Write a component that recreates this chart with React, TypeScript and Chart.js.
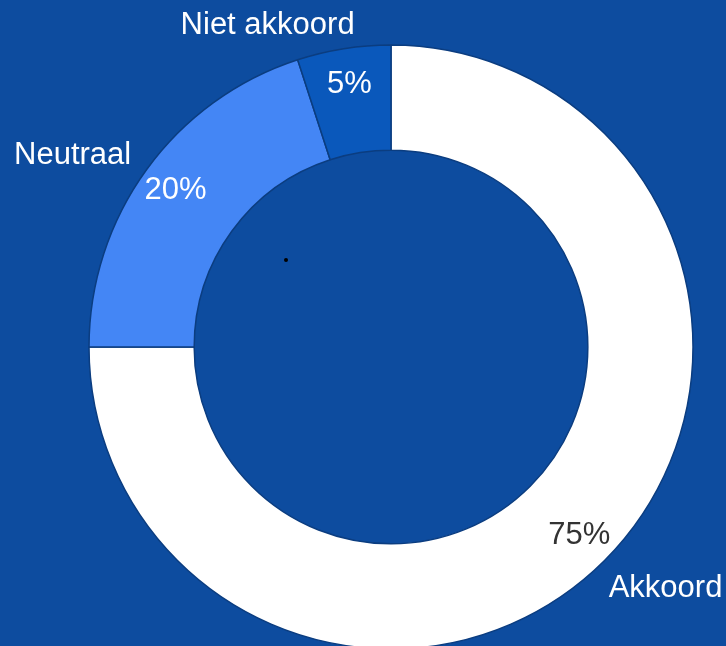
import React, { useEffect, useRef } from "react";
import { Chart, registerables } from "chart.js";

Chart.register(...registerables);

const categories = ["Akkoord", "Neutraal", "Niet akkoord"];
const values = [75, 20, 5];
const sliceColors = ["#ffffff", "#4486f5", "#0a58bb"];
const percentColors = ["#333333", "#ffffff", "#ffffff"];

const BG = "#0d4c9f";
const FONT = '31px "Liberation Sans", Arial, sans-serif';

// outside label placement: angle shift (deg) and radius factor relative to outer radius
const labelLayout = [
  { dAngle: -3.7, rFactor: 1.21 },
  { dAngle: -5, rFactor: 1.23 },
  { dAngle: -12, rFactor: 1.14 },
];

const labelPlugin = {
  id: "donutLabels",
  afterDatasetsDraw(chart: any) {
    const ctx = chart.ctx;
    const meta = chart.getDatasetMeta(0);
    const total = values.reduce((a, b) => a + b, 0);
    ctx.save();
    ctx.font = FONT;
    ctx.textAlign = "center";
    ctx.textBaseline = "middle";
    meta.data.forEach((arc: any, i: number) => {
      const p = arc.getProps(["x", "y", "startAngle", "endAngle", "innerRadius", "outerRadius"], true);
      const mid = (p.startAngle + p.endAngle) / 2;
      const rIn = p.innerRadius + (p.outerRadius - p.innerRadius) * 0.66;
      ctx.fillStyle = percentColors[i];
      ctx.fillText(
        Math.round((values[i] / total) * 100) + "%",
        p.x + Math.cos(mid) * rIn,
        p.y + Math.sin(mid) * rIn
      );
      const lay = labelLayout[i];
      const a = mid + (lay.dAngle * Math.PI) / 180;
      const rOut = p.outerRadius * lay.rFactor;
      ctx.fillStyle = "#ffffff";
      ctx.fillText(categories[i], p.x + Math.cos(a) * rOut, p.y + Math.sin(a) * rOut);
    });
    // small stray dot present in the reference
    const c = meta.data[0];
    ctx.fillStyle = "#000000";
    ctx.beginPath();
    ctx.arc(c.x - 105, c.y - 87, 2, 0, Math.PI * 2);
    ctx.fill();
    ctx.restore();
  },
};

export default function App() {
  const ref = useRef<HTMLCanvasElement>(null);
  useEffect(() => {
    document.body.style.margin = "0";
    document.body.style.background = BG;
    const chart = new Chart(ref.current!, {
      type: "doughnut",
      data: {
        labels: categories,
        datasets: [
          {
            data: values,
            backgroundColor: sliceColors,
            borderColor: "#0b3d80",
            borderWidth: 1.5,
          },
        ],
      },
      options: {
        animation: false,
        responsive: false,
        radius: 302,
        cutout: 197,
        layout: { padding: { top: 44, left: 56, right: 0, bottom: 0 } },
        plugins: {
          legend: { display: false },
          tooltip: { enabled: false },
        },
      },
      plugins: [
        {
          id: "bg",
          beforeDraw(ch: any) {
            const cx = ch.ctx;
            cx.save();
            cx.fillStyle = BG;
            cx.fillRect(0, 0, ch.width, ch.height);
            cx.restore();
          },
        },
        labelPlugin,
      ],
    });
    return () => chart.destroy();
  }, []);
  return (
    <div style={{ position: "fixed", left: 0, top: 0, width: 726, height: 646, overflow: "hidden", background: BG }}>
      <canvas ref={ref} width={726} height={650} style={{ width: 726, height: 650, display: "block" }} />
    </div>
  );
}
